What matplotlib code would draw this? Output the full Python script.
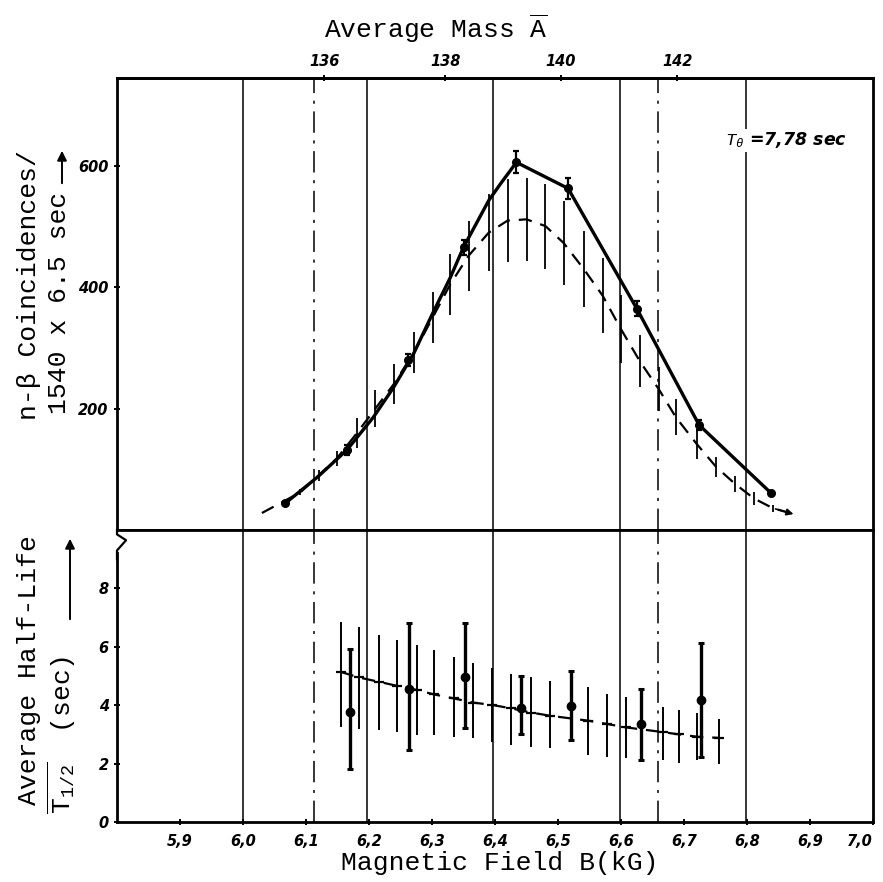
"""Delayed-neutron mass scan: n-beta coincidences and average half-life vs magnetic field."""
import matplotlib

matplotlib.use("Agg")
import matplotlib.pyplot as plt
from matplotlib.patches import FancyArrowPatch

plt.rcParams["font.family"] = ["Liberation Mono", "DejaVu Sans Mono"]
plt.rcParams["mathtext.fontset"] = "custom"
plt.rcParams["mathtext.rm"] = "Liberation Mono"
plt.rcParams["mathtext.it"] = "Liberation Mono:italic"
plt.rcParams["mathtext.bf"] = "Liberation Mono:bold"

W, H = 883, 882

# ---- top panel: measured coincidences (solid curve + dots) ----
solid_B = [6.067, 6.118, 6.165, 6.207, 6.239, 6.271, 6.301, 6.329, 6.350,
           6.390, 6.409, 6.434, 6.516, 6.625, 6.724, 6.838]
solid_N = [44, 87, 132, 186, 235, 291, 357, 416, 466,
           543, 571, 606, 563, 365, 173, 61]
dot_B = [6.067, 6.165, 6.262, 6.350, 6.434, 6.516, 6.625, 6.724, 6.838]
dot_N = [44, 132, 280, 466, 606, 563, 365, 173, 61]
dot_err = [0, 8, 10, 12, 18, 17, 12, 8, 0]

# ---- top panel: dashed curve with its error bars ----
dash_B = [6.030, 6.091, 6.120, 6.149, 6.181, 6.210, 6.239, 6.271, 6.301,
          6.329, 6.358, 6.390, 6.420, 6.450, 6.480, 6.509, 6.541, 6.571,
          6.600, 6.630, 6.660, 6.687, 6.720, 6.751, 6.781, 6.811, 6.841, 6.878]
dash_N = [28, 62, 90, 118, 160, 200, 240, 292, 350,
          405, 452, 490, 510, 512, 501, 473, 430, 386,
          331, 278, 232, 186, 142, 104, 76, 52, 36, 25]
dash_err = [0, 5, 9, 13, 25, 30, 33, 34, 42,
            50, 58, 63, 68, 69, 70, 70, 63, 62,
            56, 43, 36, 30, 25, 16, 13, 10, 6, 0]

# ---- bottom panel: half-life fit curve with error bars ----
hl_B = [6.155, 6.184, 6.216, 6.245, 6.276, 6.303, 6.335, 6.365, 6.395, 6.426,
        6.457, 6.487, 6.548, 6.577, 6.608, 6.666, 6.692, 6.721, 6.756]
hl_T = [5.14, 4.95, 4.80, 4.66, 4.52, 4.37, 4.23, 4.09, 4.01, 3.89,
        3.75, 3.64, 3.47, 3.36, 3.24, 3.08, 3.00, 2.92, 2.88]
hl_lo = [3.27, 3.20, 3.15, 3.09, 2.98, 2.98, 2.92, 2.86, 2.74, 2.64,
         2.58, 2.52, 2.29, 2.24, 2.18, 2.12, 2.03, 2.12, 2.00]
hl_hi = [6.86, 6.69, 6.40, 6.23, 6.06, 5.89, 5.66, 5.43, 5.26, 5.07,
         4.97, 4.84, 4.61, 4.40, 4.27, 3.95, 3.84, 3.72, 3.52]

# ---- bottom panel: individual measurements (bold dots) ----
meas_B = [6.170, 6.263, 6.353, 6.441, 6.520, 6.632, 6.727]
meas_T = [3.77, 4.54, 4.97, 3.89, 3.97, 3.37, 4.18]
meas_lo = [1.83, 2.47, 3.21, 3.00, 2.81, 2.14, 2.24]
meas_hi = [5.94, 6.80, 6.80, 5.00, 5.17, 4.54, 6.14]

# ---- axes / reference lines ----
grid_solid = [6.0, 6.197, 6.397, 6.598, 6.798]
grid_dashdot = [6.113, 6.658]
b_ticks = [5.9, 6.0, 6.1, 6.2, 6.3, 6.4, 6.5, 6.6, 6.7, 6.8, 6.9, 7.0]
b_labels = ["5,9", "6,0", "6,1", "6,2", "6,3", "6,4", "6,5", "6,6",
            "6,7", "6,8", "6,9", "7,0"]
mass_pos = [6.129, 6.321, 6.504, 6.689]
mass_labels = ["136", "138", "140", "142"]
n_ticks = [200, 400, 600]
t_ticks = [0, 2, 4, 6, 8]

TICKFONT = dict(family="DejaVu Sans", style="italic", weight="bold", size=10.5)


def px(x, y):
    return x / W, 1 - y / H


def main() -> None:
    fig = plt.figure(figsize=(W / 100, H / 100), dpi=100)
    left, right = 117 / W, 873 / W
    ax1 = fig.add_axes([left, 1 - 530 / H, right - left, (530 - 78) / H])
    ax2 = fig.add_axes([left, 1 - 822 / H, right - left, (822 - 530) / H])

    for ax in (ax1, ax2):
        ax.set_xlim(5.8, 7.0)
        for s in ax.spines.values():
            s.set_linewidth(2.0)
        for b in grid_solid:
            ax.axvline(b, color="k", lw=1.1, zorder=1)
        for b in grid_dashdot:
            ax.axvline(b, color="k", lw=1.1, ls=(0, (14, 5, 2, 5)), zorder=1)
        ax.tick_params(direction="inout", length=5, width=1.4)

    # top panel
    ax1.set_ylim(0, 745)
    ax1.plot(solid_B, solid_N, color="k", lw=2.4, zorder=3)
    ax1.errorbar(dot_B, dot_N, yerr=dot_err, fmt="o", color="k", ms=5.5,
                 elinewidth=1.6, capsize=2.5, capthick=1.6, zorder=4)
    ax1.errorbar(dash_B, dash_N, yerr=dash_err, fmt="none", ecolor="k",
                 elinewidth=1.3, zorder=2)
    ax1.plot(dash_B, dash_N, color="k", lw=1.6, ls=(0, (6, 4)), zorder=2)
    ax1.annotate("", xy=(dash_B[-1], dash_N[-1]),
                 xytext=(dash_B[-2], dash_N[-2]),
                 arrowprops=dict(arrowstyle="-|>", color="k", lw=1.2,
                                 mutation_scale=10))
    ax1.set_yticks(n_ticks)
    ax1.set_yticklabels([str(v) for v in n_ticks], fontdict=TICKFONT)
    ax1.tick_params(bottom=False, labelbottom=False)
    ax1.text(6.765, 642, r"$T_{\theta}$ =7,78 sec", fontsize=12.5,
             fontstyle="italic", fontweight="bold", family="DejaVu Sans",
             va="center", ha="left", zorder=5,
             bbox=dict(facecolor="white", edgecolor="none", pad=1))

    top = ax1.secondary_xaxis("top")
    top.set_xticks(mass_pos)
    top.set_xticklabels(mass_labels, fontdict=TICKFONT)
    top.tick_params(direction="inout", length=5, width=1.4, pad=4)
    top.spines["top"].set_linewidth(2.0)

    # bottom panel
    ax2.set_ylim(0, 10)
    ax2.plot(hl_B, hl_T, color="k", lw=1.6, ls=(0, (6, 4)), zorder=3)
    ax2.errorbar(hl_B, hl_T,
                 yerr=[[t - lo for t, lo in zip(hl_T, hl_lo)],
                       [hi - t for t, hi in zip(hl_T, hl_hi)]],
                 fmt="_", color="k", ms=7, mew=1.6, elinewidth=1.4, zorder=3)
    ax2.errorbar(meas_B, meas_T,
                 yerr=[[t - lo for t, lo in zip(meas_T, meas_lo)],
                       [hi - t for t, hi in zip(meas_T, meas_hi)]],
                 fmt="o", color="k", ms=6, elinewidth=2.4, capsize=2.5,
                 capthick=2.2, zorder=4)
    ax2.set_yticks(t_ticks)
    ax2.set_yticklabels([str(v) for v in t_ticks], fontdict=TICKFONT)
    ax2.set_xticks(b_ticks)
    xlabels = ax2.set_xticklabels(b_labels, fontdict=TICKFONT)
    xlabels[-1].set_horizontalalignment("right")
    ax2.tick_params(axis="x", pad=6)

    # axis break on the left spine
    ax2.plot([0, 0], [0.93, 0.985], transform=ax2.transAxes, color="white",
             lw=3, clip_on=False, zorder=6)
    ax2.plot([0, 0, 0.012, 0, 0], [1.0, 0.985, 0.965, 0.93, 0.90],
             transform=ax2.transAxes, color="k", lw=1.6, clip_on=False,
             zorder=7)

    # labels
    fs = 19
    fig.text(*px(436, 38), r"Average Mass $\overline{\mathrm{A}}$",
             fontsize=fs, ha="center", va="baseline")
    fig.text(*px(500, 870), "Magnetic Field B(kG)", fontsize=fs,
             ha="center", va="baseline")
    fig.text(*px(29, 285), "n-β Coincidences/", fontsize=fs, rotation=90,
             ha="center", va="center")
    fig.text(*px(59, 303), "1540 x 6.5 sec", fontsize=fs, rotation=90,
             ha="center", va="center")
    fig.text(*px(29, 670), "Average Half-Life", fontsize=fs, rotation=90,
             ha="center", va="center")
    fig.text(*px(62, 735), r"$\overline{\mathrm{T}_{1/2}}$  (sec)",
             fontsize=fs, rotation=90, ha="center", va="center")

    # arrows next to the y labels
    fig.patches.append(FancyArrowPatch(
        px(62, 186), px(62, 148), transform=fig.transFigure,
        arrowstyle="-|>", mutation_scale=14, color="k", lw=1.4))
    fig.patches.append(FancyArrowPatch(
        px(70, 622), px(70, 536), transform=fig.transFigure,
        arrowstyle="-|>", mutation_scale=14, color="k", lw=1.4))

    fig.savefig("out.png", dpi=100)
    plt.close(fig)


if __name__ == "__main__":
    main()
